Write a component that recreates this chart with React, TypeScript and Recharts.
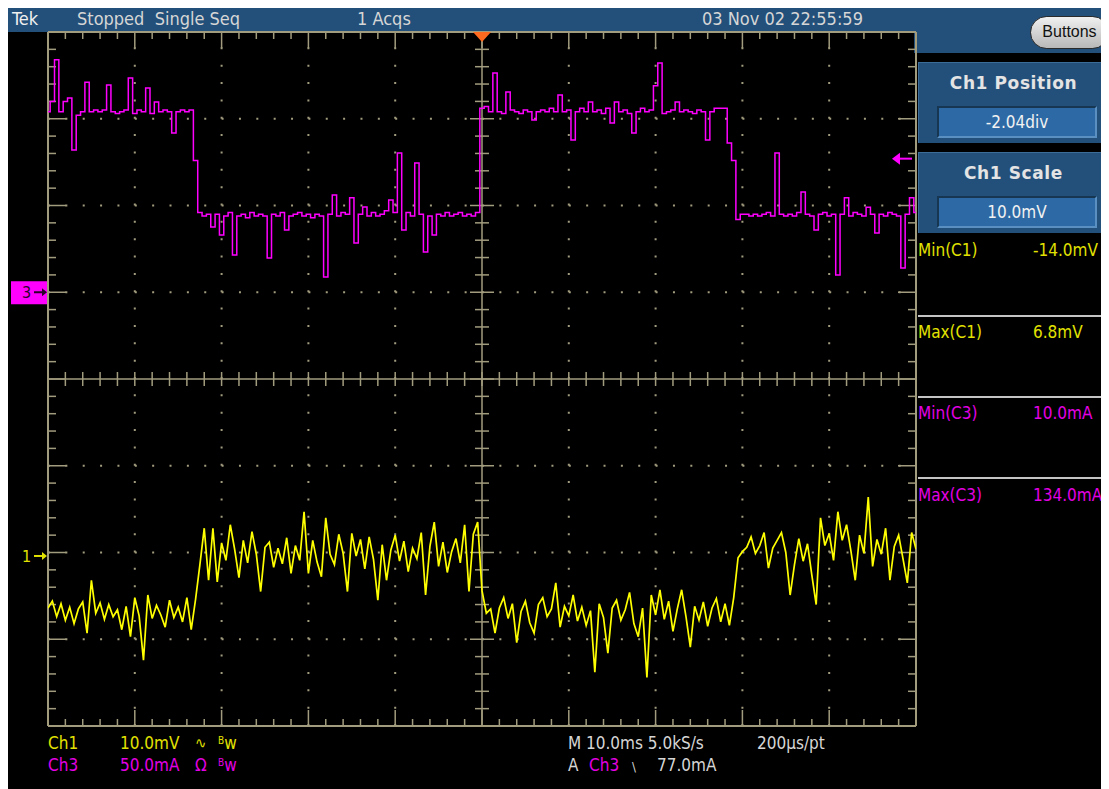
import { LineChart, Line, XAxis, YAxis, ReferenceLine, ReferenceDot } from 'recharts'

// Ch1 (yellow), mV, one sample every 0.5 ms
const ch1Mv = [
  -6.0, -5.2, -7.0, -5.5, -7.4, -5.9, -7.8, -6.1, -5.3, -8.9,
  -2.8, -6.6, -5.4, -7.3, -5.6, -7.0, -6.2, -8.5, -5.8, -9.3,
  -4.8, -6.9, -12.0, -4.5, -7.2, -5.7, -6.8, -8.2, -5.1, -7.1,
  -5.9, -7.6, -4.8, -8.5, -5.0, -1.0, 3.2, -2.8, 3.2, -3.0,
  1.5, -0.5, 3.6, 0.8, -2.5, 1.8, -0.8, 2.8, 0.2, -4.1,
  1.0, 1.6, -1.3, 0.9, -0.9, 2.1, -2.0, 1.2, -0.5, 5.1,
  -2.0, 1.8, -0.7, -2.4, 4.4, 0.2, -1.0, 2.5, 0.3, -4.1,
  2.6, 0.0, 1.9, -1.5, 2.2, -0.4, -5.1, 1.3, -2.8, 0.7,
  2.4, -0.6, 1.7, -1.8, 0.9, -0.3, 2.7, -4.5, 1.1, 3.9,
  -1.2, 1.6, -1.9, 0.5, 2.0, -0.8, 3.6, -4.1, 2.5, 3.9,
  -4.0, -6.6, -6.1, -8.9, -6.0, -4.8, -7.2, -5.5, -10.0, -6.4,
  -5.2, -7.7, -8.9, -5.6, -4.8, -7.0, -6.1, -3.1, -8.2, -5.8,
  -6.9, -4.5, -7.5, -5.9, -8.0, -6.3, -13.4, -5.5, -7.1, -11.2,
  -6.0, -5.1, -7.4, -6.2, -4.2, -7.8, -9.3, -6.0, -14.0, -4.5,
  -6.8, -3.9, -7.3, -5.2, -8.7, -6.1, -3.9, -7.0, -10.5, -5.8,
  -7.4, -5.3, -8.1, -6.0, -4.9, -7.6, -5.5, -8.0, -4.8, -0.2,
  0.5, 1.0, 2.2, 0.3, 1.2, 2.7, -1.4, 0.9, 1.8, 2.7,
  0.4, -4.5, -1.0, 2.0, -0.6, 1.4, -2.2, -5.6, 4.4, 1.2,
  2.6, -0.5, 5.1, 1.8, 3.6, 0.6, -2.8, 2.4, 0.3, 6.8,
  -1.2, 1.9, 0.2, 3.2, -2.8, 1.1, 2.4, -0.3, -3.1, 2.7, 0.8,
]

// Ch3 (magenta), mA, same time base
const ch3Ma = [
  104, 110, 134, 104, 110, 112, 82, 102, 104, 121,
  104, 105, 104, 105, 119.5, 104, 103, 104, 105, 123.5,
  103, 105, 104, 117.7, 103, 109.7, 104, 105, 104, 91.8,
  104, 105, 104, 105, 76, 46, 44, 45, 37.6, 45,
  33, 44, 46, 21.5, 44, 45, 43, 46, 44, 45,
  44, 19.7, 45, 44, 46, 35.9, 44, 45, 46, 44,
  45, 43, 45, 44, 8.8, 45, 56.1, 44, 46, 45,
  54.4, 28.4, 45, 49.1, 44, 46, 44, 45, 47, 53.2,
  46, 80.3, 35.9, 46, 44, 74.5, 45, 23.2, 44, 33,
  45, 44, 46, 44, 45, 46, 44, 45, 44, 46,
  106, 107, 104, 126.4, 104, 103, 115.4, 105, 104, 103,
  105, 104, 99.3, 104, 105, 104, 106, 104, 113.7, 104,
  105, 87.8, 104, 106, 104, 109.7, 104, 105, 103, 106,
  97.5, 109.7, 104, 105, 103, 91.8, 104, 106, 104, 105,
  119, 132.1, 103, 104, 105, 109.7, 104, 105, 104, 103,
  105, 104, 87.8, 104, 106, 106, 106, 86, 76, 42,
  45, 45, 44, 45, 44, 45, 46, 44, 80.3, 45,
  44, 45, 44, 46, 57.8, 45, 44, 35.9, 45, 46,
  44, 45, 9.9, 45, 54.4, 44, 46, 45, 44, 49,
  45, 34.2, 45, 44, 46, 45, 44, 14, 45, 54.4, 46,
]

const SAMPLE_MS = 0.5
const TRIGGER_MA = 77.0

const measurements = [
  { label: 'Min(C1)', value: '-14.0mV', ch: 1 },
  { label: 'Max(C1)', value: '6.8mV', ch: 1 },
  { label: 'Min(C3)', value: '10.0mA', ch: 3 },
  { label: 'Max(C3)', value: '134.0mA', ch: 3 },
]

const data = ch1Mv.map((v, i) => ({ t: i * SAMPLE_MS, ch1: v, ch3: ch3Ma[i] }))

const W = 1101
const H = 781
const TAN = '#a29c7e'
const YEL = '#ffff00'
const MAG = '#ff00ff'
const YEL_TXT = '#e2e200'
const MAG_TXT = '#e400e4'
const GREY_TXT = '#d6d6d6'
const BLUE = '#23507a'
const FONT = '"Liberation Sans Narrow", "DejaVu Sans Condensed", "Liberation Sans", Arial, sans-serif'

const PX_PER_MS = 8.68
const PX_PER_DIV = 86.75
const msTicks = Array.from({ length: 51 }, (_, k) => k * 2)
const divTicks = Array.from({ length: 41 }, (_, k) => -4 + k * 0.2)
const gridMs = [10, 20, 30, 40, 60, 70, 80, 90]
const gridDiv = [-3, -2, -1, 1, 2, 3]

function Label({ x, y, color = GREY_TXT, size = 17, bold = false, family = FONT, children }: any) {
  return (
    <div
      style={{
        position: 'absolute', left: x, top: y, transform: 'translateY(-50%)',
        color, fontSize: size, fontWeight: bold ? 700 : 400, lineHeight: 1,
        whiteSpace: 'nowrap', fontFamily: family,
      }}
    >
      {children}
    </div>
  )
}

function Bw() {
  return (
    <span>
      <span style={{ fontSize: 10, verticalAlign: 5 }}>B</span>w
    </span>
  )
}

function SettingBox({ top, title, value }: any) {
  return (
    <div style={{ position: 'absolute', left: 910, top, width: 191, height: 81, background: BLUE, borderTop: '1px solid #3c6d99', borderLeft: '1px solid #3c6d99', boxSizing: 'border-box' }}>
      <div style={{ position: 'absolute', left: 0, width: 189, top: 12, textAlign: 'center', color: '#e4e4e4', fontFamily: '"DejaVu Sans", sans-serif', fontWeight: 700, fontSize: 17, lineHeight: 1, letterSpacing: 0.6 }}>
        {title}
      </div>
      <div style={{ position: 'absolute', left: 18, top: 43, width: 160, height: 32, background: '#2d6aa5', borderTop: '2px solid #163652', borderLeft: '2px solid #163652', borderBottom: '2px solid #5a8fc2', borderRight: '2px solid #5a8fc2', boxSizing: 'border-box', textAlign: 'center', color: '#f2f2f2', fontFamily: FONT, fontSize: 17, lineHeight: '28px' }}>
        {value}
      </div>
    </div>
  )
}

const lineProps = { dot: false, activeDot: false, isAnimationActive: false }

export default function App() {
  const tickLen = (major: boolean) => (major ? 16 : 7)
  return (
    <div style={{ position: 'relative', width: W, height: H, background: '#000', overflow: 'hidden' }}>
      {/* header bar */}
      <div style={{ position: 'absolute', left: 0, top: 0, width: W, height: 24, background: BLUE }} />
      <div style={{ position: 'absolute', left: 906, top: 0, width: W - 906, height: 45, background: BLUE }} />
      <Label x={4} y={11} color="#f0f0f0" size={18}>Tek</Label>
      <Label x={69} y={11} size={18}>Stopped&nbsp;&nbsp;Single Seq</Label>
      <Label x={349} y={11} size={18}>1 Acqs</Label>
      <Label x={694} y={11} size={18}>03 Nov 02 22:55:59</Label>
      <div style={{ position: 'absolute', left: 1022, top: 8, width: 79, height: 33, borderRadius: 17, border: '1.5px solid #2a2a2a', boxSizing: 'border-box', background: 'linear-gradient(#f0f0f0, #b8b8b8)', color: '#111', fontFamily: '"Liberation Sans", Arial, sans-serif', fontSize: 16, lineHeight: '30px', textAlign: 'center' }}>
        Buttons
      </div>

      <SettingBox top={54} title="Ch1 Position" value="-2.04div" />
      <SettingBox top={144} title="Ch1 Scale" value="10.0mV" />

      {measurements.map((m, i) => (
        <div key={m.label}>
          {i > 0 && <div style={{ position: 'absolute', left: 910, top: 226 + i * 81, width: W - 910, height: 2, background: '#c4c4c4' }} />}
          <Label x={910} y={242 + i * 81.5} color={m.ch === 1 ? YEL_TXT : MAG_TXT}>{m.label}</Label>
          <Label x={1025} y={242 + i * 81.5} color={m.ch === 1 ? YEL_TXT : MAG_TXT}>{m.value}</Label>
        </div>
      ))}

      <div style={{ position: 'absolute', left: 0, top: 0 }}>
        <LineChart width={W} height={H} data={data} margin={{ top: 24, right: 193, bottom: 63, left: 40 }}>
          <XAxis dataKey="t" type="number" domain={[0, 100]} hide allowDataOverflow />
          <YAxis yAxisId="div" type="number" domain={[-4, 4]} hide allowDataOverflow />
          <YAxis yAxisId="ma" type="number" domain={[-250, 150]} hide allowDataOverflow />
          <YAxis yAxisId="mv" type="number" domain={[-19.6, 60.4]} hide allowDataOverflow />

          {gridMs.map((t) => (
            <ReferenceLine key={'gx' + t} x={t} yAxisId="div" stroke={TAN} strokeWidth={2} strokeDasharray="2 15.35" />
          ))}
          {gridDiv.map((d) => (
            <ReferenceLine key={'gy' + d} y={d} yAxisId="div" stroke={TAN} strokeWidth={2} strokeDasharray="2 15.36" />
          ))}
          <ReferenceLine x={50} yAxisId="div" stroke={TAN} strokeWidth={1.5} />
          <ReferenceLine y={0} yAxisId="div" stroke={TAN} strokeWidth={1.5} />
          <ReferenceLine x={0} yAxisId="div" stroke={TAN} strokeWidth={2} />
          <ReferenceLine x={100} yAxisId="div" stroke={TAN} strokeWidth={2} />
          <ReferenceLine y={4} yAxisId="div" stroke={TAN} strokeWidth={2} />
          <ReferenceLine y={-4} yAxisId="div" stroke={TAN} strokeWidth={2} />

          {msTicks.map((t, k) => {
            const len = tickLen(k % 5 === 0) / PX_PER_DIV
            return [
              <ReferenceLine key={'tt' + k} yAxisId="div" stroke={TAN} strokeWidth={1.5} segment={[{ x: t, y: 4 }, { x: t, y: 4 - len }]} />,
              <ReferenceLine key={'tb' + k} yAxisId="div" stroke={TAN} strokeWidth={1.5} segment={[{ x: t, y: -4 }, { x: t, y: -4 + len }]} />,
              <ReferenceLine key={'tc' + k} yAxisId="div" stroke={TAN} strokeWidth={1.5} segment={[{ x: t, y: -7 / PX_PER_DIV }, { x: t, y: 7 / PX_PER_DIV }]} />,
            ]
          })}
          {divTicks.map((d, k) => {
            const major = k % 5 === 0
            const len = (major ? 18 : 8) / PX_PER_MS
            const c = (major ? 12 : 7) / PX_PER_MS
            return [
              <ReferenceLine key={'tl' + k} yAxisId="div" stroke={TAN} strokeWidth={1.5} segment={[{ x: 0, y: d }, { x: len, y: d }]} />,
              <ReferenceLine key={'tr' + k} yAxisId="div" stroke={TAN} strokeWidth={1.5} segment={[{ x: 100, y: d }, { x: 100 - len, y: d }]} />,
              <ReferenceLine key={'tv' + k} yAxisId="div" stroke={TAN} strokeWidth={1.5} segment={[{ x: 50 - c, y: d }, { x: 50 + c, y: d }]} />,
            ]
          })}

          <Line yAxisId="mv" dataKey="ch1" type="linear" stroke={YEL} strokeWidth={1.7} {...lineProps} />
          <Line yAxisId="ma" dataKey="ch3" type="step" stroke={MAG} strokeWidth={1.5} {...lineProps} />

          {/* ground markers */}
          <ReferenceDot
            x={0} y={0} yAxisId="ma" ifOverflow="visible"
            shape={(p: any) => (
              <g>
                <rect x={p.cx - 37} y={p.cy - 11} width={36} height={23} fill={MAG} />
                <text x={p.cx - 26} y={p.cy + 6} fill="#2a002a" fontSize={16} fontFamily={FONT}>3</text>
                <line x1={p.cx - 14} y1={p.cy} x2={p.cx - 4} y2={p.cy} stroke="#2a002a" strokeWidth={2} />
                <polygon points={`${p.cx - 1},${p.cy} ${p.cx - 6},${p.cy - 4} ${p.cx - 6},${p.cy + 4}`} fill="#2a002a" />
              </g>
            )}
          />
          <ReferenceDot
            x={0} y={0} yAxisId="mv" ifOverflow="visible"
            shape={(p: any) => (
              <g>
                <text x={p.cx - 26} y={p.cy + 6} fill={YEL_TXT} fontSize={16} fontFamily={FONT}>1</text>
                <line x1={p.cx - 14} y1={p.cy} x2={p.cx - 4} y2={p.cy} stroke={YEL_TXT} strokeWidth={2} />
                <polygon points={`${p.cx - 1},${p.cy} ${p.cx - 6},${p.cy - 4} ${p.cx - 6},${p.cy + 4}`} fill={YEL_TXT} />
              </g>
            )}
          />
          {/* trigger level */}
          <ReferenceDot
            x={100} y={TRIGGER_MA} yAxisId="ma" ifOverflow="visible"
            shape={(p: any) => (
              <g>
                <polygon points={`${p.cx - 24},${p.cy} ${p.cx - 16},${p.cy - 6} ${p.cx - 16},${p.cy + 6}`} fill={MAG} />
                <line x1={p.cx - 17} y1={p.cy} x2={p.cx - 4} y2={p.cy} stroke={MAG} strokeWidth={2} />
              </g>
            )}
          />
          {/* trigger position */}
          <ReferenceDot
            x={50} y={4} yAxisId="div" ifOverflow="visible"
            shape={(p: any) => (
              <polygon points={`${p.cx - 9},${p.cy} ${p.cx + 9},${p.cy} ${p.cx},${p.cy + 10}`} fill="#ff6a1e" />
            )}
          />
        </LineChart>
      </div>

      {/* bottom readout */}
      <Label x={40} y={735} color={YEL_TXT}>Ch1</Label>
      <Label x={112} y={735} color={YEL_TXT}>10.0mV</Label>
      <Label x={187} y={735} color={YEL_TXT} size={15}>∿</Label>
      <Label x={210} y={735} color={YEL_TXT}><Bw /></Label>
      <Label x={40} y={757} color={MAG_TXT}>Ch3</Label>
      <Label x={112} y={757} color={MAG_TXT}>50.0mA</Label>
      <Label x={187} y={757} color={MAG_TXT}>Ω</Label>
      <Label x={210} y={757} color={MAG_TXT}><Bw /></Label>

      <Label x={560} y={735}>M 10.0ms 5.0kS/s</Label>
      <Label x={749} y={735}>200µs/pt</Label>
      <Label x={560} y={757}>A</Label>
      <Label x={581} y={757} color={MAG_TXT}>Ch3</Label>
      <Label x={624} y={758} size={13}>\</Label>
      <Label x={649} y={757}>77.0mA</Label>
    </div>
  )
}
